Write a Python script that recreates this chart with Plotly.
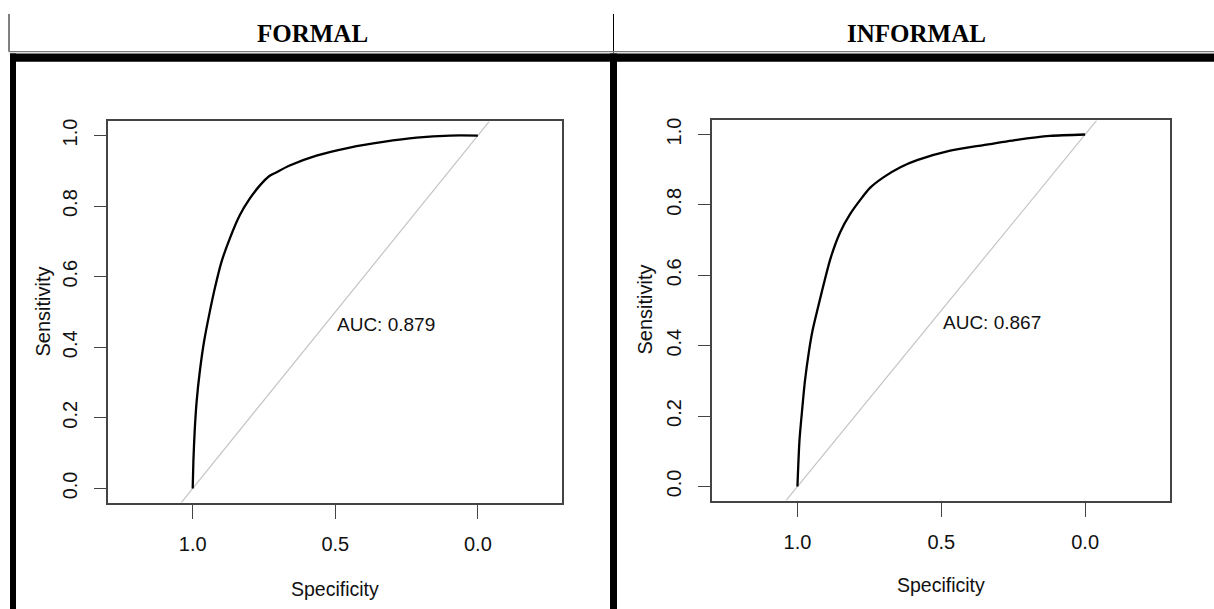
import plotly.graph_objects as go

W, H = 1214, 609

# ---- data ----
panel_titles = ["FORMAL", "INFORMAL"]
auc_labels = ["AUC: 0.879", "AUC: 0.867"]

formal_spec = [1.0, 0.9975, 0.993, 0.986, 0.975, 0.960, 0.940, 0.921, 0.899, 0.870, 0.835,
               0.800, 0.765, 0.730, 0.706, 0.660, 0.566, 0.449, 0.332, 0.215, 0.098, 0.0]
formal_sens = [0.0, 0.079, 0.163, 0.248, 0.332, 0.417, 0.501, 0.572, 0.642, 0.708, 0.774,
               0.821, 0.858, 0.886, 0.896, 0.915, 0.943, 0.966, 0.982, 0.994, 1.0, 1.0]

informal_spec = [1.0, 0.993, 0.984, 0.974, 0.960, 0.948, 0.932, 0.885, 0.851, 0.816, 0.781,
                 0.747, 0.700, 0.642, 0.584, 0.469, 0.353, 0.237, 0.122, 0.0]
informal_sens = [0.0, 0.130, 0.215, 0.299, 0.384, 0.441, 0.497, 0.648, 0.723, 0.775, 0.815,
                 0.849, 0.879, 0.907, 0.927, 0.954, 0.970, 0.985, 0.996, 1.0]

diag_spec = [1.04, -0.04]
diag_sens = [-0.04, 1.04]

tick_vals_x = [1.0, 0.5, 0.0]
tick_text_x = ["1.0", "0.5", "0.0"]
tick_vals_y = [0.0, 0.2, 0.4, 0.6, 0.8, 1.0]
tick_text_y = ["0.0", "0.2", "0.4", "0.6", "0.8", "1.0"]


def px(x):
    return x / W


def py(y):
    return 1 - y / H


SANS = "Liberation Sans, Arial, sans-serif"
SERIF = "Liberation Serif, Times New Roman, serif"
AX = "#444444"

fig = go.Figure()

curves = [(formal_spec, formal_sens), (informal_spec, informal_sens)]
for i, (sp, se) in enumerate(curves):
    xa = "x" if i == 0 else "x2"
    ya = "y" if i == 0 else "y2"
    fig.add_trace(go.Scatter(x=diag_spec, y=diag_sens, mode="lines",
                             line=dict(color="#c4c4c4", width=1.2),
                             xaxis=xa, yaxis=ya, showlegend=False, hoverinfo="skip"))
    fig.add_trace(go.Scatter(x=sp, y=se, mode="lines",
                             line=dict(color="black", width=2.3, shape="spline", smoothing=0.7),
                             xaxis=xa, yaxis=ya, showlegend=False))

# panel geometry (pixels)
boxes = [(108, 562, 119, 502), (712, 1170, 118, 500)]

axis_common_x = dict(range=[1.297, -0.295], tickvals=tick_vals_x, ticktext=tick_text_x,
                     showline=True, mirror=True, linecolor=AX, linewidth=1.5,
                     ticks="outside", ticklen=15, tickwidth=1.3, tickcolor=AX,
                     showgrid=False, zeroline=False,
                     tickfont=dict(family=SANS, size=20, color="#111"),
                     ticklabelstandoff=8)
axis_common_y = dict(range=[-0.04, 1.04], tickvals=tick_vals_y, ticktext=tick_text_y,
                     showline=True, mirror=True, linecolor=AX, linewidth=1.5,
                     ticks="outside", ticklen=12, tickwidth=1.3, tickcolor=AX,
                     showgrid=False, zeroline=False, tickangle=-90,
                     tickfont=dict(family=SANS, size=20, color="#111"),
                     ticklabelstandoff=9)

(l0, r0, t0, b0), (l1, r1, t1, b1) = boxes
fig.update_layout(
    xaxis=dict(domain=[px(l0), px(r0)], anchor="y", **axis_common_x),
    yaxis=dict(domain=[py(b0), py(t0)], anchor="x", **axis_common_y),
    xaxis2=dict(domain=[px(l1), px(r1)], anchor="y2", **axis_common_x),
    yaxis2=dict(domain=[py(b1), py(t1)], anchor="x2", **axis_common_y),
)

annotations = []
# AUC text
annotations.append(dict(x=0.5, y=0.465, xref="x", yref="y", text=auc_labels[0], showarrow=False,
                        xanchor="left", yanchor="middle", font=dict(family=SANS, size=19, color="#111")))
annotations.append(dict(x=0.5, y=0.466, xref="x2", yref="y2", text=auc_labels[1], showarrow=False,
                        xanchor="left", yanchor="middle", font=dict(family=SANS, size=19, color="#111")))
# axis titles
for (cx, cy) in [(335, 589), (941, 585)]:
    annotations.append(dict(x=px(cx), y=py(cy), xref="paper", yref="paper", text="Specificity",
                            showarrow=False, xanchor="center", yanchor="middle",
                            font=dict(family=SANS, size=19.5, color="#111")))
for (cx, cy) in [(43, 310), (645, 308)]:
    annotations.append(dict(x=px(cx), y=py(cy), xref="paper", yref="paper", text="Sensitivity",
                            showarrow=False, xanchor="center", yanchor="middle", textangle=-90,
                            font=dict(family=SANS, size=20, color="#111")))
# header titles
for (cx, t) in [(312, panel_titles[0]), (916, panel_titles[1])]:
    annotations.append(dict(x=px(cx), y=py(31), xref="paper", yref="paper", text="<b>%s</b>" % t,
                            showarrow=False, xanchor="center", yanchor="middle",
                            font=dict(family=SERIF, size=25, color="black")))

shapes = []
# header thin verticals
shapes.append(dict(type="line", xref="paper", yref="paper", x0=px(9), x1=px(9), y0=py(11), y1=py(49),
                   line=dict(color="black", width=1)))
shapes.append(dict(type="line", xref="paper", yref="paper", x0=px(613.5), x1=px(613.5), y0=py(11), y1=py(50),
                   line=dict(color="black", width=1)))
# thin gray horizontal
shapes.append(dict(type="line", xref="paper", yref="paper", x0=px(9), x1=1, y0=py(48.8), y1=py(48.8),
                   line=dict(color="#777777", width=1.2)))
# thick horizontal
shapes.append(dict(type="rect", xref="paper", yref="paper", x0=px(10), x1=1, y0=py(59), y1=py(50.7),
                   fillcolor="black", line=dict(width=0)))
# thick verticals
shapes.append(dict(type="rect", xref="paper", yref="paper", x0=px(10), x1=px(16), y0=0, y1=py(50.7),
                   fillcolor="black", line=dict(width=0)))
shapes.append(dict(type="rect", xref="paper", yref="paper", x0=px(610), x1=px(617), y0=0, y1=py(50.7),
                   fillcolor="black", line=dict(width=0)))

fig.update_layout(
    width=W, height=H, margin=dict(l=0, r=0, t=0, b=0),
    paper_bgcolor="white", plot_bgcolor="white",
    annotations=annotations, shapes=shapes, showlegend=False,
)

fig.write_html("out.html", config={"displayModeBar": False},
               post_script="document.body.style.margin='0';document.body.style.overflow='hidden';")
